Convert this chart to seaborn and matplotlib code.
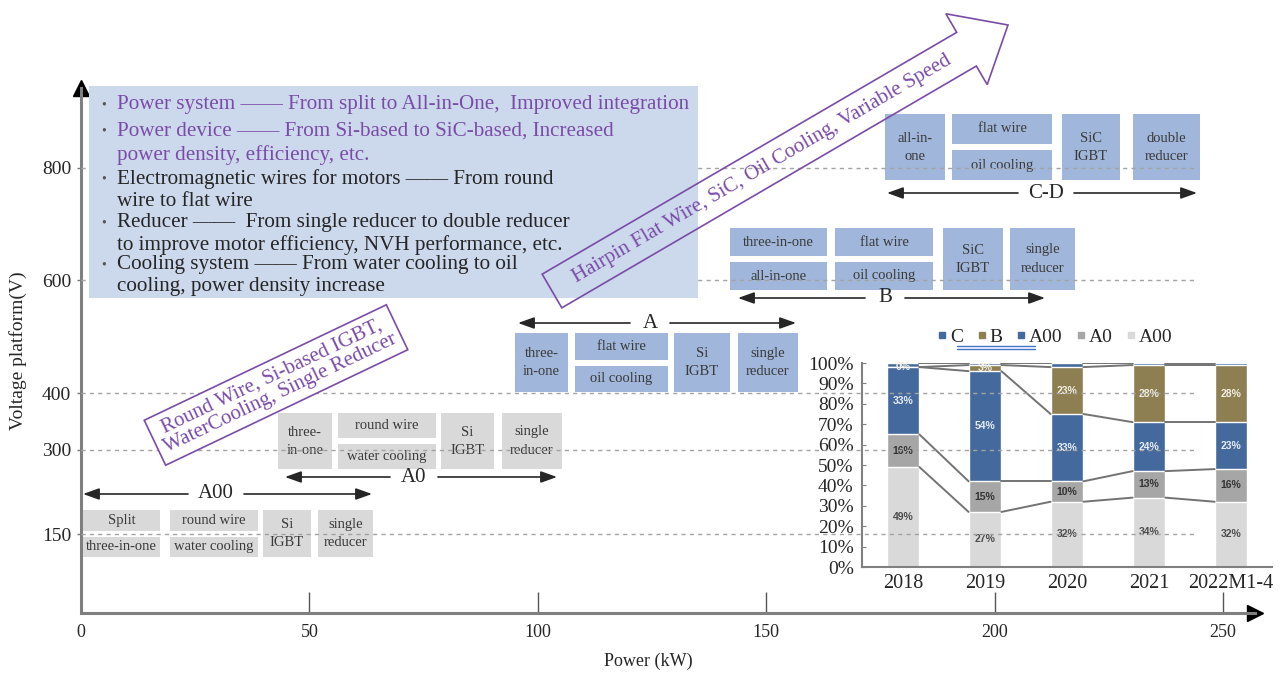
import pandas as pd
import seaborn as sns
import matplotlib.pyplot as plt
from matplotlib.lines import Line2D
from matplotlib.patches import Rectangle, FancyArrow

sns.set_style("ticks")
plt.rcParams['font.family'] = ['Liberation Serif', 'DejaVu Serif']

# main chart axes
voltage_ticks = [150, 300, 400, 600, 800]
power_ticks = [0, 50, 100, 150, 200, 250]

# inset: share of each tier by year (%)
years = ["2018", "2019", "2020", "2021", "2022M1-4"]
share_A00 = [49, 27, 32, 34, 32]
share_A0 = [16, 15, 10, 13, 16]
share_A = [33, 54, 33, 24, 23]
share_B = [0, 3, 23, 28, 28]
share_C = [2, 1, 2, 1, 1]
legend_names = ["C", "B", "A00", "A0", "A00"]

# summary text box
bullet_lines = [
    ("•", "Power system —— From split to All-in-One,  Improved integration", "p"),
    ("•", "Power device —— From Si-based to SiC-based, Increased", "p"),
    ("", "power density, efficiency, etc.", "p"),
    ("•", "Electromagnetic wires for motors —— From round", "k"),
    ("", "wire to flat wire", "k"),
    ("•", "Reducer ——  From single reducer to double reducer", "k"),
    ("", "to improve motor efficiency, NVH performance, etc.", "k"),
    ("•", "Cooling system —— From water cooling to oil", "k"),
    ("", "cooling, power density increase", "k"),
]

# components per tier, tuples are two stacked boxes
tier_names = ["A00", "A0", "A", "B", "C-D"]
tier_parts = [
    [("Split", "three-in-one"), ("round wire", "water cooling"), "Si\nIGBT", "single\nreducer"],
    ["three-\nin-one", ("round wire", "water cooling"), "Si\nIGBT", "single\nreducer"],
    ["three-\nin-one", ("flat wire", "oil cooling"), "Si\nIGBT", "single\nreducer"],
    [("three-in-one", "all-in-one"), ("flat wire", "oil cooling"), "SiC\nIGBT", "single\nreducer"],
    ["all-in-\none", ("flat wire", "oil cooling"), "SiC\nIGBT", "double\nreducer"],
]
trend_low = "Round Wire, Si-based IGBT,\nWaterCooling, Single Reducer"
trend_high = "Hairpin Flat Wire, SiC, Oil Cooling, Variable Speed"

# colours
PURPLE = "#7a4ca8"
DARK = "#262626"
GRAYBOX = "#d9d9d9"
BLUEBOX = "#a0b6da"
seg_colors = {"A00": "#d9d9d9", "A0": "#a6a6a6", "A": "#44699d", "B": "#8d7f52", "C": "#44699d"}

W, H = 1282, 675
fig = plt.figure(figsize=(W / 100, H / 100), dpi=100)


def fx(px):
    return px / W


def fy(py):
    return 1 - py / H


# ---- main axes (power vs voltage)
ax = fig.add_axes([fx(81), fy(613), fx(1255) - fx(81), fy(88) - fy(613)])
ax.set_xlim(0, 257)
ax.set_ylim(10.6, 941)
sns.despine(ax=ax)
for s in ["left", "bottom"]:
    ax.spines[s].set_color("#7f7f7f")
    ax.spines[s].set_linewidth(2.2)
ax.set_xticks(power_ticks)
ax.set_yticks(voltage_ticks)
ax.tick_params(axis="x", direction="in", length=15, width=1, color="#555555",
               labelsize=13, pad=8, labelcolor=DARK)
ax.tick_params(axis="y", direction="out", length=3, width=1, color="#777777",
               labelsize=14, pad=4, labelcolor=DARK)
ax.set_xlabel("Power (kW)", fontsize=13, color=DARK)
ax.set_ylabel("Voltage platform(V)", fontsize=14, color=DARK)
ax.xaxis.set_label_coords(0.483, -0.075)
ax.yaxis.set_label_coords(-0.046, 0.5)
ax.plot(1, 0, marker=">", ms=11, color="black", transform=ax.transAxes, clip_on=False)
ax.plot(0, 1, marker="^", ms=11, color="black", transform=ax.transAxes, clip_on=False)

# ---- inset stacked bars
ins = fig.add_axes([fx(862), fy(567), fx(1272) - fx(862), fy(363) - fy(567)])
ins.patch.set_alpha(0)
df = pd.DataFrame({"year": years, "A00": share_A00, "A0": share_A0,
                   "A": share_A, "B": share_B, "C": share_C})
order = ["A00", "A0", "A", "B", "C"]
cum = df[order].cumsum(axis=1)
cum["year"] = years
for seg in reversed(order):
    sns.barplot(data=cum, x="year", y=seg, color=seg_colors[seg], width=0.4,
                saturation=1, errorbar=None, ax=ins)
for seg in order:
    for i in range(len(years) - 1):
        ins.plot([i + 0.2, i + 0.8], [cum[seg][i], cum[seg][i + 1]],
                 color="#737373", lw=1.4)
for seg, tc in [("A00", "#4d4d4d"), ("A0", "#333333"), ("A", "#e8ecf4"), ("B", "#f2efe4")]:
    for i in range(len(years)):
        v = df[seg][i]
        ins.text(i, cum[seg][i] - v / 2, f"{v}%", ha="center", va="center",
                 fontsize=7.5, fontweight="bold", color=tc, family="Liberation Sans")
ins.set_xlim(-0.5, 4.5)
ins.set_ylim(0, 100)
ins.set_yticks(range(0, 101, 10))
ins.set_yticklabels([f"{t}%" for t in range(0, 101, 10)])
ins.set_xlabel("")
ins.set_ylabel("")
sns.despine(ax=ins)
for s in ["left", "bottom"]:
    ins.spines[s].set_color("#808080")
    ins.spines[s].set_linewidth(1.5)
ins.tick_params(axis="y", direction="in", length=3, color="#808080", labelsize=14,
                pad=6, labelcolor=DARK)
ins.tick_params(axis="x", length=0, labelsize=14.5, pad=5, labelcolor=DARK)
handles = [Line2D([], [], marker="s", ls="", ms=4, color=seg_colors[k])
           for k in ["C", "B", "A", "A0", "A00"]]
ins.legend(handles, legend_names, loc="center", bbox_to_anchor=(fx(1055), fy(337)),
           bbox_transform=fig.transFigure, ncol=5, frameon=False, fontsize=14,
           handlelength=0.5, handletextpad=0.15, columnspacing=0.7, borderpad=0)

# ---- overlay in pixel coordinates for annotations
ov = fig.add_axes([0, 0, 1, 1])
ov.set_autoscale_on(False)
ov.set_xlim(0, W)
ov.set_ylim(H, 0)
ov.axis("off")

# voltage platform guide lines
for v in voltage_ticks:
    ov.plot([0, 244], [v, v], transform=ax.transData, color="#a3a3a3",
            lw=1, ls=(0, (3, 3)), zorder=2)

# tier component boxes
tier_layout = {
    "A00": dict(cols=[(83, 160), (170, 258), (263, 311), (318, 373)], y=(510, 557),
                arrow=(494, 83, 372, 216), color=GRAYBOX),
    "A0": dict(cols=[(278, 332), (338, 436), (441, 494), (502, 562)], y=(413, 469),
               arrow=(477, 285, 557, 414), color=GRAYBOX),
    "A": dict(cols=[(515, 568), (575, 668), (674, 730), (738, 798)], y=(333, 392),
              arrow=(323, 518, 796, 650), color=BLUEBOX),
    "B": dict(cols=[(730, 827), (835, 933), (943, 1003), (1010, 1075)], y=(228, 290),
              arrow=(298, 738, 1045, 885), color=BLUEBOX),
    "C-D": dict(cols=[(885, 945), (952, 1052), (1062, 1120), (1133, 1200)], y=(114, 180),
                arrow=(193, 887, 1197, 1046), color=BLUEBOX),
}
arrow_kw = dict(arrowstyle="-|>,head_length=0.7,head_width=0.25", color=DARK, lw=1.2,
                mutation_scale=14, shrinkA=0, shrinkB=0)
for name, parts in zip(tier_names, tier_parts):
    lay = tier_layout[name]
    y0, y1 = lay["y"]
    ym = (y0 + y1) / 2
    for (x0, x1), part in zip(lay["cols"], parts):
        if isinstance(part, tuple):
            boxes = [(y0, ym - 3, part[0]), (ym + 3, y1, part[1])]
        else:
            boxes = [(y0, y1, part)]
        for b0, b1, txt in boxes:
            ov.add_patch(Rectangle((x0, b0), x1 - x0, b1 - b0, fc=lay["color"],
                                   ec="none", zorder=1))
            ov.text((x0 + x1) / 2, (b0 + b1) / 2, txt, ha="center", va="center",
                    fontsize=10.5, color="#3a3a3a", linespacing=1.5, zorder=1.5)
    ay, a0, a1, lx = lay["arrow"]
    gap = 16 + 4 * len(name)
    ov.annotate("", xy=(a0, ay), xytext=(lx - gap, ay), zorder=2, arrowprops=arrow_kw)
    ov.annotate("", xy=(a1, ay), xytext=(lx + gap, ay), zorder=2, arrowprops=arrow_kw)
    ov.text(lx, ay, name, fontsize=15, ha="center", va="center", color=DARK, zorder=3)

# summary text box
ov.add_patch(Rectangle((89, 86), 609, 212, fc="#ccd8eb", ec="none", zorder=3))
line_y = [105, 131, 155, 179, 202, 223, 245, 265, 287]
for (b, txt, c), yy in zip(bullet_lines, line_y):
    col = PURPLE if c == "p" else DARK
    if b:
        ov.text(104, yy, b, fontsize=10, ha="center", va="center", color="#555555", zorder=4)
    ov.text(117, yy, txt, fontsize=15.2, ha="left", va="center", color=col, zorder=4)

# trend arrow
ov.add_patch(FancyArrow(552, 291, 456, -266, width=39, head_width=82, head_length=48,
                        length_includes_head=True, fill=False, ec=PURPLE, lw=1.2, zorder=5))
ov.text(762, 169, trend_high, rotation=30.3, rotation_mode="anchor", ha="center",
        va="center", fontsize=15, color=PURPLE, zorder=5)

# low tier label
ov.text(276, 385, trend_low, rotation=25.5, rotation_mode="anchor", ha="center",
        va="center", fontsize=15, color=PURPLE, linespacing=0.95, zorder=5,
        bbox=dict(boxstyle="square,pad=0.3", fc="white", ec=PURPLE, lw=1.2))

# legend underline
ov.plot([957, 1035], [346, 346], color="#4472c4", lw=1, zorder=5)
ov.plot([957, 1035], [349, 349], color="#4472c4", lw=1, zorder=5)

plt.savefig("out.png", dpi=100)
